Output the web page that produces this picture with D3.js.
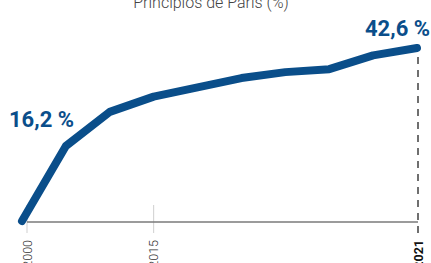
<!DOCTYPE html>
<html>
<head>
<meta charset="utf-8">
<script src="https://cdn.jsdelivr.net/npm/d3@7/dist/d3.min.js"></script>
<style>
html,body{margin:0;padding:0;background:#fff;}
svg{display:block;font-family:Roboto,"Noto Sans",sans-serif;}
</style>
</head>
<body>
<svg id="chart" width="431" height="263"></svg>
<script>
const years = ["2000","2005","2010","2015","2016","2017","2018","2019","2020","2021"];
const values = [0, 16.2, 25.4, 29.5, 32.0, 34.5, 36.1, 36.9, 40.6, 42.6];
const tickYears = ["2000","2015","2021"];
const title = "Principios de París (%)";
const labels = [{year:"2005", text:"16,2 %"},{year:"2021", text:"42,6 %"}];

const blue = "#0a4e8a";
const svg = d3.select("#chart");
const x = d3.scalePoint().domain(years).range([22, 417]);
const y = d3.scaleLinear().domain([0, 16.2, 42.6]).range([221, 146, 48]);
const axisY = 222;
const off = t => t === "2000" ? 5 : (t === "2021" ? 1 : 0);

// title
svg.append("text").attr("x", 211).attr("y", 7.5).attr("text-anchor","middle")
  .attr("font-size", 16).attr("font-weight", 300).attr("fill", "#444").text(title);

// gridlines/ticks
tickYears.slice(0,2).forEach(t => {
  svg.append("line").attr("x1", x(t)+off(t)).attr("x2", x(t)+off(t))
    .attr("y1", 205).attr("y2", 233).attr("stroke", "#cfcfcf").attr("stroke-width", 1);
});
// axis line
svg.append("line").attr("x1", x("2000")+off("2000")).attr("x2", x("2021")+off("2021")).attr("y1", axisY).attr("y2", axisY)
  .attr("stroke", "#7a7a7a").attr("stroke-width", 1.5);
// dashed line at last year
svg.append("line").attr("x1", x("2021")+off("2021")).attr("x2", x("2021")+off("2021"))
  .attr("y1", y(42.6)+9).attr("y2", 233)
  .attr("stroke", "#333").attr("stroke-width", 1.4).attr("stroke-dasharray", "7,6");

// tick labels
tickYears.forEach(t => {
  const last = t === "2021";
  svg.append("text")
    .attr("transform", `translate(${x(t)+off(t)},240) rotate(-90)`)
    .attr("text-anchor", "end").attr("dy", "0.36em")
    .attr("font-size", 12.5).attr("font-weight", last ? 700 : 300)
    .attr("fill", last ? "#111" : "#333").text(t);
});

// line
const line = d3.line().x((d,i) => x(years[i])).y(d => y(d));
svg.append("path").datum(values).attr("d", line)
  .attr("fill", "none").attr("stroke", blue).attr("stroke-width", 8)
  .attr("stroke-linecap", "round").attr("stroke-linejoin", "round");

// value labels
svg.append("text").attr("x", 9).attr("y", 127).attr("font-size", 22).attr("font-weight", 700)
  .attr("fill", blue).text(labels[0].text);
svg.append("text").attr("x", 430).attr("y", 36).attr("text-anchor", "end").attr("font-size", 22).attr("font-weight", 700)
  .attr("fill", blue).text(labels[1].text);
</script>
</body>
</html>
